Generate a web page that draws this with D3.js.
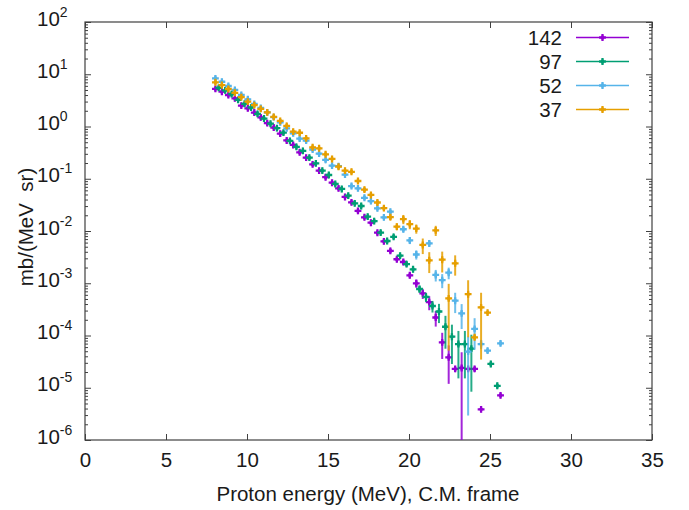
<!DOCTYPE html>
<html>
<head>
<meta charset="utf-8">
<script src="https://cdn.jsdelivr.net/npm/d3@7"></script>
<style>
  body { margin: 0; background: #fff; }
  svg text { font-family: "Liberation Sans", Arial, sans-serif; fill: #1a1a1a; }
</style>
</head>
<body>
<div id="chart"></div>
<script>
// energies (MeV) for 142, 52, 37 deg
const gridA = [8.05, 8.45, 8.85, 9.25, 9.65, 10.05, 10.45, 10.85, 11.25, 11.65, 12.05, 12.45, 12.85, 13.25, 13.65,
  14.05, 14.45, 14.85, 15.25, 15.65, 16.05, 16.45, 16.85, 17.25, 17.65, 18.05, 18.45, 18.85, 19.25, 19.65,
  20.05, 20.45, 20.85, 21.25, 21.65, 22.05, 22.45, 22.85, 23.25, 23.65, 24.05, 24.45, 24.85, 25.25, 25.65];
// energies for 97 deg
const gridB = [8.25, 8.65, 9.05, 9.45, 9.85, 10.25, 10.65, 11.05, 11.45, 11.85, 12.25, 12.65, 13.05, 13.45, 13.85,
  14.25, 14.65, 15.05, 15.45, 15.85, 16.25, 16.65, 17.05, 17.45, 17.85, 18.25, 18.65, 19.05, 19.45, 19.85,
  20.25, 20.65, 21.05, 21.45, 21.85, 22.25, 22.65, 23.05, 23.45, 23.85, 24.25, 24.65, 25.05, 25.45];

// cross sections mb/(MeV sr), null = no point
const v142 = [5.25, 4.63, 4.01, 3.47, 2.51, 2.23, 1.85, 1.49, 1.16, 0.955, 0.73, 0.54, 0.443, 0.321, 0.253,
  0.189, 0.143, 0.107, 0.084, 0.0656, 0.0448, 0.0354, 0.0242, 0.0183, 0.0144, 0.00927, 0.00634, 0.00417, 0.00288, 0.00255,
  0.00142, 9.98e-4, 6.41e-4, 4.35e-4, 2.21e-4, 7.41e-5, 3.83e-5, 2.29e-5, 2.39e-5, 2.29e-5, 2.29e-5, 3.86e-6, null, null, 7.16e-6];
const e142 = [0.02, 0.02, 0.02, 0.02, 0.02, 0.02, 0.02, 0.02, 0.02, 0.02, 0.02, 0.03, 0.03, 0.03, 0.03,
  0.03, 0.03, 0.04, 0.04, 0.04, 0.04, 0.05, 0.05, 0.05, 0.06, 0.06, 0.07, 0.08, 0.09, 0.1,
  0.12, 0.18, 0.22, 0.3, 0.33, 0.52, 0.69, 0.1, 1.0, 0.1, 0.1, 0.05, 0, 0, 0.05];

const v97 = [5.5, 4.9, 4.17, 3.24, 2.72, 2.31, 1.75, 1.42, 1.13, 0.929, 0.762, 0.532, 0.408, 0.342, 0.253,
  0.197, 0.143, 0.118, 0.0794, 0.0637, 0.0474, 0.0339, 0.0301, 0.0188, 0.0155, 0.00933, 0.00644, 0.00773, 0.00337, 0.00233,
  0.00185, 7.76e-4, 5.46e-4, 3.67e-4, 2.88e-4, 1.47e-4, 9.48e-5, 6.87e-5, 6.87e-5, 5.6e-5, null, null, 2.85e-5, 1.09e-5];
const e97 = [0.02, 0.02, 0.02, 0.02, 0.02, 0.02, 0.02, 0.02, 0.02, 0.02, 0.02, 0.03, 0.03, 0.03, 0.03,
  0.03, 0.03, 0.04, 0.04, 0.04, 0.04, 0.05, 0.05, 0.05, 0.06, 0.06, 0.07, 0.08, 0.09, 0.1,
  0.12, 0.15, 0.2, 0.25, 0.4, 0.62, 0.7, 0.78, 0.78, 0.85, 0, 0, 0.08, 0.08];

const v52 = [8.36, 7.19, 5.96, 5.0, 4.01, 3.32, 2.7, 2.26, 1.86, 1.51, 1.2, 0.925, 0.741, 0.585, 0.535,
  0.363, 0.302, 0.229, 0.178, 0.174, 0.12, 0.0726, 0.0656, 0.0432, 0.0372, 0.0272, 0.0182, 0.0234, null, 0.0108,
  0.00661, 0.00355, null, 0.00581, 0.00144, 0.00115, 0.00159, 4.63e-4, 2.66e-4, 4.9e-5, 1.34e-4, 6.87e-5, 5.13e-5, null, 7.08e-5];
const e52 = [0.02, 0.02, 0.02, 0.02, 0.02, 0.02, 0.02, 0.02, 0.02, 0.02, 0.02, 0.03, 0.03, 0.03, 0.03,
  0.03, 0.03, 0.04, 0.04, 0.04, 0.05, 0.05, 0.05, 0.06, 0.06, 0.07, 0.08, 0.08, 0, 0.12,
  0.15, 0.2, 0, 0.15, 0.25, 0.3, 0.25, 0.42, 0.5, 0.94, 0.6, 0.2, 0.1, 0, 0.05];

const v37 = [7.02, 6.22, 5.22, 4.42, 3.65, 2.99, 2.57, 2.18, 1.86, 1.53, 1.28, 1.03, 0.796, 0.759, 0.594,
  0.4, 0.383, 0.294, 0.239, 0.17, 0.143, 0.136, 0.0906, 0.0619, 0.0489, 0.0351, 0.0274, 0.0184, 0.0121, 0.0169,
  0.0135, 0.0111, 0.0054, 0.00275, 0.0103, 0.00282, 5.13e-4, 0.00241, null, 6.17e-4, 9.25e-5, 3.46e-4, 2.74e-4];
const e37 = [0.02, 0.02, 0.02, 0.02, 0.02, 0.02, 0.02, 0.02, 0.03, 0.03, 0.03, 0.03, 0.04, 0.04, 0.04,
  0.05, 0.05, 0.05, 0.06, 0.06, 0.07, 0.07, 0.08, 0.09, 0.1, 0.1, 0.11, 0.12, 0.15, 0.2,
  0.2, 0.2, 0.33, 0.43, 0.22, 0.43, 0.9, 0.42, 0, 0.85, 0.1, 0.9, 0.05];

const seriesNames = ["142", "97", "52", "37"];
const seriesColors = ["#9400d3", "#009e73", "#56b4e9", "#e69f00"];
const xTicks = [0, 5, 10, 15, 20, 25, 30, 35];
const yTicks = [1e-6, 1e-5, 1e-4, 1e-3, 1e-2, 1e-1, 1e0, 1e1, 1e2];
const yExp = ["-6", "-5", "-4", "-3", "-2", "-1", "0", "1", "2"];

const width = 689, height = 510;
const mLeft = 85, mRight = 652, mTop = 22, mBottom = 440;

const svg = d3.select("#chart").append("svg")
  .attr("width", width).attr("height", height);

const x = d3.scaleLinear().domain([0, 35]).range([mLeft, mRight]);
const y = d3.scaleLog().domain([1e-6, 1e2]).range([mBottom, mTop]);

// minor y ticks 2..9 per decade
const yMinor = [];
for (let d = -6; d < 2; d++) for (let m = 2; m <= 9; m++) yMinor.push(m * Math.pow(10, d));

const axisColor = "#404040";

function styleAxis(g) {
  g.select(".domain").remove();
  g.selectAll("line").attr("stroke", axisColor);
}

// x axes (bottom + mirrored top), ticks inside
svg.append("g").attr("transform", `translate(0,${mBottom})`)
  .call(d3.axisBottom(x).tickValues(xTicks).tickSize(-6).tickPadding(12).tickFormat(d3.format("d")))
  .call(styleAxis)
  .selectAll("text").attr("font-size", 20.5).attr("fill", "#1a1a1a");
svg.append("g").attr("transform", `translate(0,${mTop})`)
  .call(d3.axisTop(x).tickValues(xTicks).tickSize(-6).tickFormat(""))
  .call(styleAxis);

// y axes, major + minor, left and right
svg.append("g").attr("transform", `translate(${mLeft},0)`)
  .call(d3.axisLeft(y).tickValues(yMinor).tickSize(-3).tickFormat(""))
  .call(styleAxis);
svg.append("g").attr("transform", `translate(${mRight},0)`)
  .call(d3.axisRight(y).tickValues(yMinor).tickSize(-3).tickFormat(""))
  .call(styleAxis);
svg.append("g").attr("transform", `translate(${mRight},0)`)
  .call(d3.axisRight(y).tickValues(yTicks).tickSize(-6).tickFormat(""))
  .call(styleAxis);

const yAx = svg.append("g").attr("transform", `translate(${mLeft},0)`)
  .call(d3.axisLeft(y).tickValues(yTicks).tickSize(-6).tickFormat(""))
  .call(styleAxis);
yAx.selectAll(".tick").each(function(d, i) {
  const t = d3.select(this).append("text")
    .attr("x", -48).attr("y", 3)
    .attr("text-anchor", "start")
    .attr("font-size", 20.5)
    .attr("fill", "#1a1a1a");
  t.append("tspan").text("10");
  t.append("tspan").attr("dy", -9).attr("font-size", 14).text(yExp[i]);
});

// frame
svg.append("rect")
  .attr("x", mLeft).attr("y", mTop)
  .attr("width", mRight - mLeft).attr("height", mBottom - mTop)
  .attr("fill", "none").attr("stroke", axisColor).attr("stroke-width", 1.2);

// axis titles
svg.append("text")
  .attr("x", 368).attr("y", 501)
  .attr("text-anchor", "middle").attr("font-size", 20.5)
  .text("Proton energy (MeV), C.M. frame");
svg.append("text")
  .attr("transform", "translate(33,227) rotate(-90)")
  .attr("text-anchor", "middle").attr("font-size", 20.5)
  .attr("xml:space", "preserve")
  .text("mb/(MeV  sr)");

// data
svg.append("clipPath").attr("id", "plotclip")
  .append("rect").attr("x", mLeft).attr("y", mTop)
  .attr("width", mRight - mLeft).attr("height", mBottom - mTop);
const plot = svg.append("g").attr("clip-path", "url(#plotclip)");

const cross = d3.symbol().type(d3.symbolCross).size(26);
const blob = d3.symbol().type(d3.symbolDiamond).size(14);

function drawMarker(sel, color) {
  sel.append("path").attr("d", cross).attr("fill", color);
  sel.append("path").attr("d", blob).attr("fill", color);
}

const series = [
  { xs: gridA, vs: v142, es: e142 },
  { xs: gridB, vs: v97, es: e97 },
  { xs: gridA, vs: v52, es: e52 },
  { xs: gridA, vs: v37, es: e37 }
];

series.forEach((s, k) => {
  const pts = s.vs.map((v, i) => ({ e: s.xs[i], v: v, err: s.es[i] })).filter(p => p.v != null);
  const g = plot.append("g");
  g.selectAll("line.err")
    .data(pts.filter(p => p.err > 0))
    .enter().append("line")
      .attr("x1", p => x(p.e)).attr("x2", p => x(p.e))
      .attr("y1", p => y(p.v * (1 + p.err)))
      .attr("y2", p => y(Math.max(p.v * (1 - p.err), 1e-7)))
      .attr("stroke", seriesColors[k]).attr("stroke-width", 2).attr("opacity", 0.85);
  g.selectAll("g.pt")
    .data(pts)
    .enter().append("g")
      .attr("transform", p => `translate(${x(p.e)},${y(p.v)})`)
      .call(drawMarker, seriesColors[k]);
});

// legend
const legRows = [37.5, 61.5, 85.5, 109.5];
seriesNames.forEach((name, k) => {
  const ly = legRows[k];
  svg.append("text")
    .attr("x", 562).attr("y", ly + 7)
    .attr("text-anchor", "end").attr("font-size", 20.5)
    .text(name);
  svg.append("line")
    .attr("x1", 576).attr("x2", 629).attr("y1", ly).attr("y2", ly)
    .attr("stroke", seriesColors[k]).attr("stroke-width", 1.5);
  svg.append("g")
    .attr("transform", `translate(602.5,${ly})`)
    .call(drawMarker, seriesColors[k]);
});
</script>
</body>
</html>
